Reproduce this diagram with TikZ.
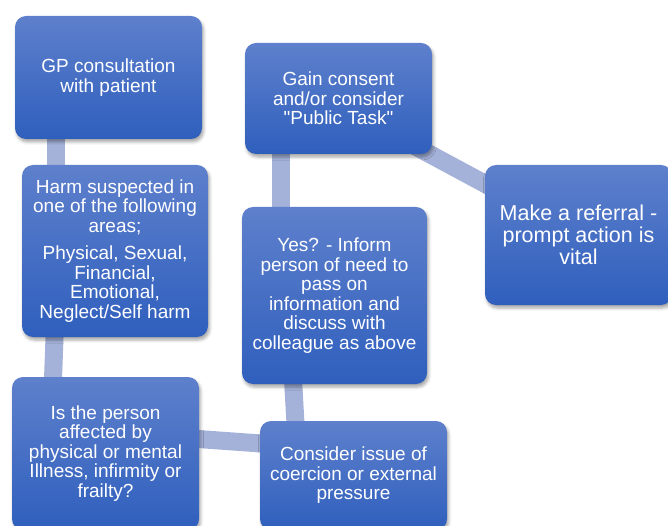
\documentclass[tikz,border=0pt]{standalone}
\usepackage{fontspec}
\setmainfont{Liberation Sans}[Ligatures=TeXOff]
\usetikzlibrary{shadows.blur,backgrounds}
\definecolor{boxtop}{RGB}{94,128,204}
\definecolor{boxbot}{RGB}{47,95,189}
\definecolor{linkc}{RGB}{164,177,216}
\tikzset{
  stepbox/.style={rounded corners=11pt, top color=boxtop, bottom color=boxbot,
    text=white, align=center, inner sep=0pt,
    font=\fontsize{19}{19.5}\selectfont,
    blur shadow={shadow xshift=1.5pt, shadow yshift=-3pt,
      shadow blur radius=3pt, shadow opacity=35}},
  link/.style={linkc, line width=18pt}
}
\begin{document}
\begin{tikzpicture}[x=1pt, y=-1pt]
  \useasboundingbox (0,0) rectangle (668,526);
  \clip (0,0) rectangle (668,526);

  % process steps
  \node[stepbox, minimum width=187pt, minimum height=123pt] (gp) at (108.5,77.5)
    {GP consultation\\with patient};
  \node[stepbox, minimum width=186pt, minimum height=172pt] (harm) at (115,251)
    {Harm suspected in\\one of the following\\areas;\\[8pt]
     Physical, Sexual,\\Financial,\\Emotional,\\Neglect/Self harm};
  \node[stepbox, minimum width=187pt, minimum height=153pt] (isp) at (105.5,453.5)
    {Is the person\\affected by\\physical or mental\\Illness, infirmity or\\frailty?};
  \node[stepbox, minimum width=187pt, minimum height=109pt] (cons) at (353.5,475.5)
    {Consider issue of\\coercion or external\\pressure};
  \node[stepbox, minimum width=185pt, minimum height=177pt] (yes) at (334.5,295.5)
    {Yes? - Inform\\person of need to\\pass on\\information and\\discuss with\\colleague as above};
  \node[stepbox, minimum width=187pt, minimum height=111pt] (gain) at (338.5,98.5)
    {Gain consent\\and/or consider\\"Public Task"};
  \node[stepbox, minimum width=187pt, minimum height=140pt,
        font=\fontsize{21.5}{22}\selectfont] (make) at (578.5,235)
    {Make a referral -\\prompt action is\\vital};

  % connectors behind the steps
  \begin{scope}[on background layer]
    \draw[link] ([xshift=41.5pt,yshift=8pt]gp.south west)
             -- ([xshift=34.5pt,yshift=-8pt]harm.north west);
    \draw[link] ([xshift=33pt,yshift=8pt]harm.south west)
             -- ([xshift=41pt,yshift=-8pt]isp.north west);
    \draw[link] ([xshift=-8pt,yshift=15pt]isp.east)
             -- ([xshift=8pt,yshift=31.5pt]cons.west);
    \draw[link] ([xshift=36pt,yshift=-8pt]cons.north west)
             -- ([xshift=51pt,yshift=8pt]yes.south west);
    \draw[link] ([xshift=39pt,yshift=-8pt]yes.north west)
             -- ([xshift=36pt,yshift=8pt]gain.south west);
    \draw[link] ([xshift=-22pt,yshift=10.6pt]gain.south east)
             -- ([xshift=25pt,yshift=-32.4pt]make.north west);
  \end{scope}
\end{tikzpicture}
\end{document}
